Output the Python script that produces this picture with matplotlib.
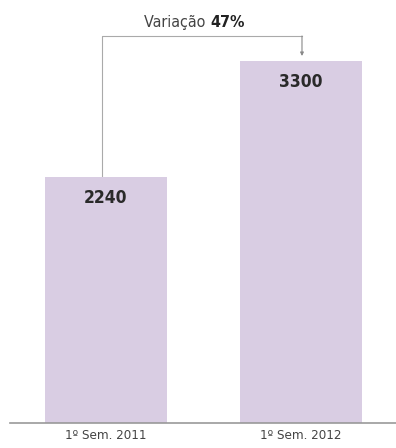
import matplotlib
matplotlib.use("Agg")
import matplotlib.pyplot as plt

categories = ["1º Sem. 2011", "1º Sem. 2012"]
values = [2240, 3300]
variation_label = "47%"

plt.rcParams['font.family'] = ['DejaVu Sans']
plt.rcParams['font.stretch'] = 'condensed'

fig = plt.figure(figsize=(3.96, 4.48), dpi=100)
ax = fig.add_axes([10/396, 25/448, 386/396, 423/448])

x = list(range(len(categories)))
bars = ax.bar(x, values, width=0.63, color="#d9cde3", zorder=2)

ymax = values[1] * 423 / 362
ax.set_xlim(-0.492, 1.487)
ax.set_ylim(0, ymax)

for xi, v in zip(x, values):
    ax.text(xi, v - ymax * 0.05, f"{v}", ha="center", va="center",
            fontsize=12.5, fontweight="bold", color="#2a2a2a")

# bracket
ytop = ymax * (423 - 36) / 423
yarrow = ymax * (423 - 56) / 423
xl, xr = x[0] - 0.02, x[1] + 0.005
ax.plot([xl, xl, xr], [values[0], ytop, ytop], color="#aaaaaa", lw=0.8, zorder=1)
ax.annotate("", xy=(xr, yarrow), xytext=(xr, ytop),
            arrowprops=dict(arrowstyle="-|>", color="#888888", lw=0.8,
                            mutation_scale=5, shrinkA=0, shrinkB=0))
ytext = ymax * (423 - 27) / 423
xsplit = 0.535
ax.text(xsplit, ytext, "Variação ", ha="right", va="baseline",
        fontsize=11.5, color="#444444")
ax.text(xsplit, ytext, variation_label, ha="left", va="baseline",
        fontsize=11.5, fontweight="bold", color="#222222")

for s in ["top", "right", "left"]:
    ax.spines[s].set_visible(False)
ax.spines["bottom"].set_color("#999999")
ax.spines["bottom"].set_linewidth(1.2)
ax.set_yticks([])
ax.set_xticks(x)
ax.set_xticklabels(categories, fontsize=9.5, color="#444444")
ax.tick_params(axis="x", length=0, pad=4)

fig.savefig("out.png", dpi=100)
